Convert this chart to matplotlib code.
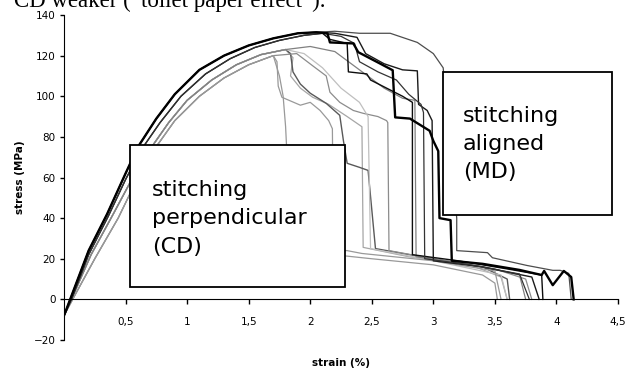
import matplotlib
matplotlib.use('Agg')
import matplotlib.pyplot as plt
from matplotlib.patches import Rectangle

# loading part, shared by groups of specimens
rise_outer_x = [0, 0.05, 0.2, 0.35, 0.5, 0.6, 0.75, 0.9, 1.1, 1.3, 1.5, 1.7, 1.9, 2.05]
rise_outer_y = [-8, 0, 24, 42, 62, 75, 89, 101, 113, 120, 125, 128.5, 131, 131.5]
rise_md2_x = [0, 0.06, 0.2, 0.36, 0.5, 0.62, 0.78, 0.95, 1.15, 1.35, 1.55, 1.75, 1.95, 2.1]
rise_md2_y = [-8, 0, 22, 41, 59, 73, 87, 100, 111, 118.5, 124, 127.5, 130, 131]
rise_mid_x = [0, 0.06, 0.22, 0.4, 0.55, 0.7, 0.85, 1.0, 1.2, 1.4, 1.6, 1.8]
rise_mid_y = [-8, 0, 22, 42, 59, 74, 87, 98, 108, 115.5, 120.5, 123]
rise_inner_x = [0, 0.07, 0.25, 0.44, 0.56, 0.7, 0.9, 1.1, 1.3, 1.5, 1.7]
rise_inner_y = [-8, 0, 20, 40, 55, 71, 88, 100, 109, 115.5, 120]

# failure part, stitching aligned (MD)
md1_x = [2.2, 2.4, 2.65, 2.87, 3.0, 3.08, 3.16, 3.19, 3.19, 3.44, 3.48, 3.76, 3.97, 4.03, 4.1, 4.12]
md1_y = [132, 131, 131, 126.5, 121, 114, 60, 40, 24, 23, 20.5, 16.7, 14.3, 14.3, 12.8, 0]
md2_x = [2.14, 2.16, 2.35, 2.39, 2.57, 2.67, 2.69, 2.81, 2.97, 3.0, 3.04, 3.05, 3.14, 3.15, 3.4, 3.7,
         3.88, 3.9, 3.97, 4.06, 4.12, 4.14]
md2_y = [131, 126.5, 126, 121.7, 116, 112.8, 89.6, 89, 83, 78, 73, 40, 39, 19, 17.5, 14.5,
         12, 14, 7, 14, 11, 0]
md3_x = [2.16, 2.3, 2.31, 2.46, 2.49, 2.62, 2.75, 2.83, 2.83, 3.2, 3.6, 3.88, 3.89]
md3_y = [128, 126, 112, 111, 108, 104, 100, 97, 22, 19, 15, 12, 0]
md4_x = [2.2, 2.38, 2.45, 2.6, 2.75, 2.87, 2.88, 2.95, 2.99, 3.0, 3.4, 3.8, 3.86]
md4_y = [131, 129, 121, 116, 113, 112.5, 96, 93, 88, 19, 16, 11, 0]
md5_x = [2.25, 2.36, 2.4, 2.55, 2.7, 2.8, 2.9, 2.92, 2.93, 3.3, 3.7, 3.78]
md5_y = [129.5, 126, 117, 112, 108, 101, 96, 92, 20, 17, 12.5, 0]

# failure part, stitching perpendicular (CD)
cd1_x = [1.73, 1.74, 1.77, 1.92, 2.0, 2.08, 2.15, 2.18, 2.19, 2.5, 3.0, 3.4, 3.5, 3.52]
cd1_y = [117, 105, 99.5, 95.6, 97, 93, 88, 84, 22, 20, 17, 12, 8, 0]
cd2_x = [1.86, 1.84, 1.92, 2.02, 2.15, 2.3, 2.42, 2.43, 2.8, 3.3, 3.55, 3.6]
cd2_y = [119, 110, 104, 99.5, 96, 90, 85, 25.6, 21, 17, 11, 0]
cd3_x = [1.84, 1.86, 1.92, 2.0, 2.13, 2.24, 2.27, 2.3, 2.4, 2.47, 2.53, 2.9, 3.4, 3.6, 3.62]
cd3_y = [121, 112, 106, 101.5, 96.5, 90.6, 78, 67, 65, 63.5, 25, 21, 16, 10, 0]
cd4_x = [1.89, 2.02, 2.13, 2.16, 2.24, 2.35, 2.43, 2.55, 2.62, 2.63, 2.64, 3.0, 3.5, 3.75, 3.8]
cd4_y = [121, 115, 110, 102, 97, 93, 91.6, 90, 88, 87, 24, 20, 15, 10, 0]
cd5_x = [1.95, 2.1, 2.25, 2.4, 2.47, 2.49, 3.0, 3.55, 3.6]
cd5_y = [121, 114, 104, 97, 90, 25, 19, 12, 0]
cd6_x = [1.75, 1.78, 1.8, 1.82, 1.9, 2.3, 2.42, 3.0, 3.5, 3.55]
cd6_y = [110, 100, 85, 60, 25, 24, 22.6, 19, 14, 0]
cd7_x = [2.0, 2.2, 2.4, 2.6, 2.75, 2.85, 2.86, 3.4, 3.7, 3.75]
cd7_y = [124.5, 122, 113, 104, 99, 98, 21, 16, 12, 0]

x_ticks = [0.5, 1, 1.5, 2, 2.5, 3, 3.5, 4, 4.5]
x_tick_labels = ['0,5', '1', '1,5', '2', '2,5', '3', '3,5', '4', '4,5']
y_ticks = [-20, 0, 20, 40, 60, 80, 100, 120, 140]

W, H = 638, 369
fig = plt.figure(figsize=(W / 100, H / 100), dpi=100)
ax = fig.add_axes([64 / W, 1 - 340 / H, (618 - 64) / W, (340 - 15) / H])

specimens = [
    (rise_inner_x, rise_inner_y, cd1_x, cd1_y, '0.6', 0.9),
    (rise_mid_x, rise_mid_y, cd2_x, cd2_y, '0.65', 0.9),
    (rise_mid_x, rise_mid_y, cd3_x, cd3_y, '0.35', 1.0),
    (rise_inner_x, rise_inner_y, cd4_x, cd4_y, '0.55', 0.9),
    (rise_mid_x, rise_mid_y, cd5_x, cd5_y, '0.75', 0.9),
    (rise_inner_x, rise_inner_y, cd6_x, cd6_y, '0.6', 0.9),
    (rise_mid_x, rise_mid_y, cd7_x, cd7_y, '0.5', 0.9),
    (rise_outer_x, rise_outer_y, md1_x, md1_y, '0.3', 0.9),
    (rise_md2_x, rise_md2_y, md3_x, md3_y, '0.05', 1.0),
    (rise_outer_x, rise_outer_y, md4_x, md4_y, '0.1', 1.0),
    (rise_md2_x, rise_md2_y, md5_x, md5_y, '0.2', 0.9),
    (rise_outer_x, rise_outer_y, md2_x, md2_y, 'black', 1.7),
]
for rx, ry, fx, fy, col, lw in specimens:
    ax.plot(rx + fx, ry + fy, color=col, lw=lw, zorder=2)

# annotation boxes
ax.add_patch(Rectangle((0.536, 5.9), 2.283 - 0.536, 75.9 - 5.9, facecolor='white',
                       edgecolor='black', lw=1.3, zorder=4))
ax.add_patch(Rectangle((3.08, 41.4), 4.45 - 3.08, 111.8 - 41.4, facecolor='white',
                       edgecolor='black', lw=1.3, zorder=4))
ax.text(0.715, 22.7, 'stitching\nperpendicular\n(CD)', fontsize=16, family='DejaVu Sans',
        va='baseline', ha='left', zorder=5, linespacing=1.55)
ax.text(3.24, 59.6, 'stitching\naligned\n(MD)', fontsize=16, family='DejaVu Sans',
        va='baseline', ha='left', zorder=5, linespacing=1.5)

ax.set_xlim(0, 4.5)
ax.set_ylim(-20, 140)
ax.spines['top'].set_visible(False)
ax.spines['right'].set_visible(False)
ax.spines['bottom'].set_position(('data', 0))
ax.set_xticks(x_ticks)
ax.set_xticklabels(x_tick_labels)
ax.set_yticks(y_ticks)
ax.tick_params(axis='x', length=3.5, width=1, pad=9, labelsize=7.5)
ax.tick_params(axis='y', length=3, width=1, pad=3, labelsize=7.5)
ax.patch.set_alpha(0)

ax.set_ylabel('stress (MPa)', fontsize=7.5, fontweight='bold', labelpad=6)
fig.text(341 / W, 1 - 363 / H, 'strain (%)', fontsize=7.5, fontweight='bold',
         ha='center', va='center')

# cut-off caption line of the page above the chart
fig.text(14 / W, 1 - 7 / H, 'CD weaker (\u201ctoilet paper effect\u201d).', fontsize=16.5,
         family='Liberation Serif', va='baseline', ha='left')

fig.savefig('out.png', dpi=100)
